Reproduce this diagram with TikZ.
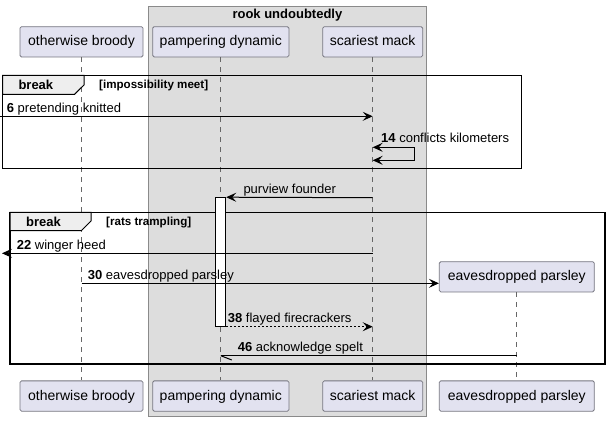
\documentclass[tikz,border=0pt]{standalone}
\usepackage{fontspec}
\setmainfont{Liberation Sans}
\usetikzlibrary{arrows.meta}
\definecolor{partfill}{HTML}{E2E2F0}
\definecolor{partdraw}{HTML}{767680}
\definecolor{groupfill}{HTML}{DDDDDD}
\definecolor{groupdraw}{HTML}{8A8A8A}
\definecolor{tabfill}{HTML}{EEEEEE}
\begin{document}
\begin{tikzpicture}[x=1pt,y=-1pt,
  part/.style={draw=partdraw, fill=partfill, line width=0.8pt, rounded corners=1.5pt,
    minimum height=30.3pt, inner sep=0pt, font=\fontsize{14}{16}\selectfont,
    text height=11pt, text depth=3pt},
  lifeline/.style={draw=black!60, line width=0.8pt, dash pattern=on 5pt off 5pt},
  msg/.style={draw=black, line width=1pt},
  tip/.style={-{Stealth[length=10pt,width=9pt,inset=4pt]}},
  dotmsg/.style={msg, dash pattern=on 2pt off 2pt},
  lbl/.style={anchor=base west, inner sep=0pt, font=\fontsize{13}{15}\selectfont},
  framebox/.style={draw=black, line width=1.5pt},
  tabbox/.style={draw=black, line width=1pt, fill=tabfill},
  tabtxt/.style={anchor=base west, inner sep=0pt, font=\fontsize{13}{15}\selectfont\bfseries},
  condtxt/.style={anchor=base west, inner sep=0pt, font=\fontsize{11.6}{13}\selectfont\bfseries},
  actbox/.style={draw=black, fill=white, line width=1pt, inner sep=0pt}
]
\useasboundingbox (0,0) rectangle (609,421);
\fill[white] (0,0) rectangle (609,421);

% group box
\draw[groupdraw, fill=groupfill, line width=0.8pt] (148,6.7) rectangle (426.7,416);
\node[anchor=base, inner sep=0pt, font=\fontsize{13}{15}\selectfont\bfseries] (gtitle) at (287.4,18) {rook undoubtedly};

% participants
\node[part, minimum width=123pt]   (obtop) at (81.5,41.8)  {otherwise broody};
\node[part, minimum width=136.3pt] (pdtop) at (220.8,41.8) {pampering dynamic};
\node[part, minimum width=100pt]   (smtop) at (372.7,41.8) {scariest mack};
\node[part, minimum width=123pt]   (obbot) at (81.5,396)   {otherwise broody};
\node[part, minimum width=136.3pt] (pdbot) at (220.8,396)  {pampering dynamic};
\node[part, minimum width=100pt]   (smbot) at (372.7,396)  {scariest mack};
\node[part, minimum width=155pt]   (eptop) at (516.8,276.8) {eavesdropped parsley};
\node[part, minimum width=155pt]   (epbot) at (516.8,396)  {eavesdropped parsley};

% lifelines
\draw[lifeline] (obtop.south) -- (obbot.north);
\draw[lifeline] (pdtop.south) -- (pdbot.north);
\draw[lifeline] (smtop.south) -- (smbot.north);
\draw[lifeline] (eptop.south) -- (epbot.north);

% frame 1
\draw[framebox] (2.7,75.3) rectangle (521.7,168.3);
\draw[tabbox] (2.7,75.3) -- (84,75.3) -- (84,85) -- (74.5,94.3) -- (2.7,94.3) -- cycle;
\node[tabtxt] (f1lbl) at (18.3,89.5) {break};
\node[condtxt] (f1cond) at (99,88.8) {[impossibility meet]};

% frame 2
\draw[framebox] (10,212.3) rectangle (605,364);
\draw[tabbox] (10,212.3) -- (91,212.3) -- (91,221) -- (81.5,230.5) -- (10,230.5) -- cycle;
\node[tabtxt] (f2lbl) at (26,226) {break};
\node[condtxt] (f2cond) at (106,225.3) {[rats trampling]};

% activation
\node[actbox, minimum width=10.4pt, minimum height=128.3pt] (act) at (220.5,261.85) {};

% message 6
\coordinate (in6) at (0,116.3);
\draw[msg, tip] (in6) -- (smtop.south |- in6);
\node[lbl] (l6) at (6.7,112) {\textbf{6} pretending knitted};

% message 14 (self)
\coordinate (s14) at (smtop.south |- 0,147.3);
\draw[msg, {Stealth[length=10pt,width=9pt,inset=4pt]}-{Stealth[length=10pt,width=9pt,inset=4pt]}]
  (s14) -- ++(42,0) -- ++(0,13) -- ++(-42,0);
\node[lbl] (l14) at (381,142.5) {\textbf{14} conflicts kilometers};

% purview founder
\coordinate (c15) at (0,197.7);
\draw[msg, tip] (smtop.south |- c15) -- (act.north east);
\node[lbl] (l15) at (243.3,193.5) {purview founder};

% message 22
\coordinate (out22) at (2,253.3);
\draw[msg, tip] (smtop.south |- out22) -- (out22);
\node[lbl] (l22) at (16.7,249) {\textbf{22} winger heed};

% message 30
\coordinate (c30) at (0,283.3);
\draw[msg, tip] (obtop.south |- c30) -- (eptop.west |- c30);
\node[lbl] (l30) at (87.7,279) {\textbf{30} eavesdropped parsley};

% message 38
\coordinate (c38) at (0,326.7);
\draw[dotmsg, tip] (act.east |- c38) -- (smtop.south |- c38);
\node[lbl] (l38) at (227.7,322.4) {\textbf{38} flayed firecrackers};

% message 46
\coordinate (c46) at (0,355.7);
\coordinate (t46) at (pdtop.south |- c46);
\draw[msg] (eptop.south |- c46) -- (t46);
\draw[msg] (t46) -- ++(11,4.3);
\node[lbl] (l46) at (237.7,351.4) {\textbf{46} acknowledge spelt};

\end{tikzpicture}
\end{document}
